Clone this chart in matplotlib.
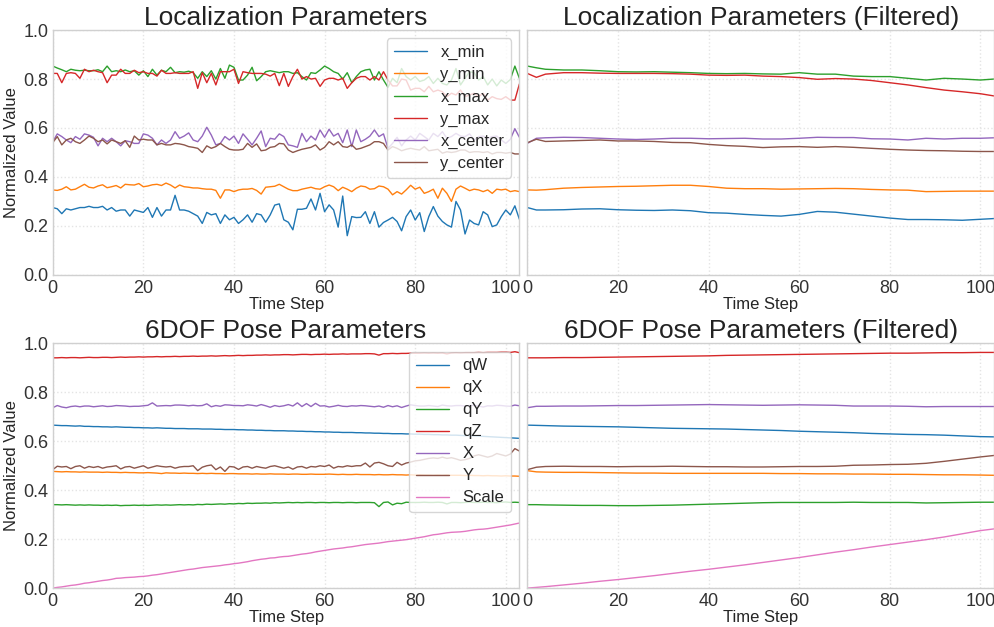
import matplotlib.pyplot as plt
import numpy as np

# raw localization parameters (one value per time step, 0..103)
x_min = [0.275, 0.27, 0.25, 0.27, 0.265, 0.27, 0.275, 0.275, 0.28, 0.275,
         0.275, 0.28, 0.265, 0.275, 0.26, 0.265, 0.265, 0.24, 0.265, 0.26,
         0.255, 0.275, 0.235, 0.275, 0.24, 0.265, 0.265, 0.325, 0.265, 0.265,
         0.26, 0.25, 0.24, 0.21, 0.255, 0.245, 0.25, 0.21, 0.245, 0.225,
         0.235, 0.21, 0.225, 0.245, 0.215, 0.25, 0.245, 0.215, 0.245, 0.285,
         0.29, 0.225, 0.215, 0.184, 0.268, 0.268, 0.272, 0.31, 0.265, 0.333,
         0.258, 0.286, 0.265, 0.195, 0.322, 0.16, 0.238, 0.234, 0.235, 0.258,
         0.21, 0.258, 0.195, 0.214, 0.224, 0.235, 0.218, 0.18, 0.238, 0.265,
         0.224, 0.254, 0.177, 0.238, 0.279, 0.24, 0.218, 0.204, 0.195, 0.3,
         0.265, 0.167, 0.224, 0.21, 0.204, 0.258, 0.245, 0.197, 0.204, 0.238,
         0.265, 0.245, 0.282, 0.227]
y_min = [0.347, 0.345, 0.35, 0.36, 0.347, 0.35, 0.36, 0.37, 0.358, 0.355,
         0.363, 0.368, 0.356, 0.36, 0.365, 0.355, 0.37, 0.368, 0.367, 0.373,
         0.36, 0.363, 0.368, 0.37, 0.365, 0.375, 0.367, 0.355, 0.367, 0.36,
         0.358, 0.355, 0.355, 0.352, 0.35, 0.35, 0.345, 0.313, 0.347, 0.347,
         0.34, 0.347, 0.35, 0.35, 0.353, 0.345, 0.33, 0.358, 0.36, 0.362,
         0.37, 0.36, 0.35, 0.344, 0.344, 0.35, 0.354, 0.358, 0.352, 0.35,
         0.36, 0.367, 0.36, 0.344, 0.358, 0.35, 0.34, 0.354, 0.363, 0.36,
         0.35, 0.352, 0.363, 0.36, 0.35, 0.327, 0.34, 0.33, 0.347, 0.366,
         0.35, 0.358, 0.333, 0.34, 0.35, 0.313, 0.354, 0.333, 0.3, 0.35,
         0.363, 0.354, 0.344, 0.35, 0.347, 0.34, 0.347, 0.333, 0.35, 0.347,
         0.35, 0.34, 0.344, 0.34]
x_max = [0.853, 0.845, 0.838, 0.83, 0.84, 0.836, 0.834, 0.836, 0.834, 0.834,
         0.838, 0.83, 0.853, 0.83, 0.834, 0.83, 0.837, 0.83, 0.834, 0.816,
         0.834, 0.81, 0.84, 0.816, 0.836, 0.83, 0.848, 0.826, 0.83, 0.828,
         0.832, 0.826, 0.803, 0.83, 0.81, 0.834, 0.8, 0.843, 0.803, 0.857,
         0.848, 0.796, 0.796, 0.816, 0.848, 0.793, 0.81, 0.83, 0.834, 0.83,
         0.826, 0.83, 0.83, 0.823, 0.826, 0.81, 0.796, 0.826, 0.823, 0.837,
         0.853, 0.843, 0.83, 0.823, 0.8, 0.826, 0.785, 0.81, 0.83, 0.837,
         0.84, 0.796, 0.83, 0.796, 0.766, 0.803, 0.785, 0.843, 0.81, 0.796,
         0.81, 0.79, 0.796, 0.81, 0.782, 0.803, 0.782, 0.776, 0.796, 0.843,
         0.776, 0.803, 0.83, 0.826, 0.796, 0.81, 0.776, 0.8, 0.772, 0.796,
         0.782, 0.798, 0.853, 0.803]
y_max = [0.823, 0.823, 0.785, 0.823, 0.826, 0.823, 0.803, 0.84, 0.83, 0.836,
         0.83, 0.826, 0.785, 0.816, 0.816, 0.84, 0.823, 0.823, 0.836, 0.826,
         0.83, 0.823, 0.823, 0.812, 0.836, 0.823, 0.823, 0.826, 0.823, 0.823,
         0.823, 0.83, 0.762, 0.826, 0.785, 0.823, 0.776, 0.83, 0.83, 0.83,
         0.84, 0.782, 0.83, 0.826, 0.823, 0.823, 0.823, 0.82, 0.812, 0.823,
         0.773, 0.823, 0.77, 0.81, 0.84, 0.8, 0.81, 0.8, 0.803, 0.77,
         0.796, 0.803, 0.803, 0.796, 0.803, 0.762, 0.785, 0.803, 0.81, 0.81,
         0.796, 0.81, 0.796, 0.83, 0.796, 0.772, 0.772, 0.8, 0.796, 0.755,
         0.762, 0.762, 0.748, 0.77, 0.748, 0.755, 0.748, 0.728, 0.742, 0.735,
         0.755, 0.728, 0.735, 0.742, 0.728, 0.742, 0.714, 0.728, 0.72, 0.717,
         0.728, 0.714, 0.714, 0.78]
x_center = [0.544, 0.576, 0.565, 0.551, 0.54, 0.565, 0.554, 0.576, 0.571, 0.562,
            0.527, 0.558, 0.544, 0.558, 0.544, 0.527, 0.548, 0.544, 0.537, 0.537,
            0.576, 0.571, 0.558, 0.531, 0.551, 0.537, 0.551, 0.585, 0.558, 0.567,
            0.58, 0.551, 0.544, 0.567, 0.603, 0.571, 0.531, 0.537, 0.565, 0.551,
            0.567, 0.537, 0.576, 0.554, 0.531, 0.558, 0.588, 0.524, 0.558, 0.554,
            0.576, 0.565, 0.531, 0.527, 0.521, 0.578, 0.544, 0.567, 0.551, 0.592,
            0.562, 0.595, 0.567, 0.578, 0.54, 0.592, 0.524, 0.592, 0.544, 0.554,
            0.567, 0.592, 0.565, 0.576, 0.517, 0.537, 0.562, 0.527, 0.551, 0.567,
            0.551, 0.578, 0.565, 0.551, 0.578, 0.565, 0.585, 0.558, 0.565, 0.578,
            0.567, 0.565, 0.576, 0.551, 0.565, 0.567, 0.558, 0.565, 0.567, 0.551,
            0.537, 0.554, 0.597, 0.562]
y_center = [0.54, 0.565, 0.531, 0.551, 0.558, 0.544, 0.537, 0.551, 0.567, 0.558,
            0.544, 0.551, 0.535, 0.551, 0.544, 0.537, 0.548, 0.521, 0.567, 0.551,
            0.554, 0.551, 0.551, 0.531, 0.537, 0.531, 0.531, 0.537, 0.535, 0.531,
            0.524, 0.521, 0.517, 0.5, 0.527, 0.517, 0.524, 0.537, 0.524, 0.513,
            0.51, 0.51, 0.513, 0.537, 0.521, 0.535, 0.507, 0.51, 0.521, 0.524,
            0.537, 0.535, 0.51, 0.5, 0.507, 0.513, 0.517, 0.521, 0.531, 0.51,
            0.521, 0.544, 0.531, 0.544, 0.524, 0.521, 0.531, 0.513, 0.517, 0.524,
            0.531, 0.544, 0.544, 0.537, 0.51, 0.524, 0.517, 0.507, 0.513, 0.517,
            0.513, 0.51, 0.524, 0.507, 0.51, 0.513, 0.497, 0.503, 0.5, 0.503,
            0.51, 0.51, 0.5, 0.503, 0.503, 0.5, 0.503, 0.494, 0.5, 0.5,
            0.497, 0.5, 0.494, 0.494]

# filtered localization parameters, read at these time steps
filt_steps = [0, 2, 4, 8, 12, 16, 20, 24, 28, 32, 36, 40, 44, 48, 52, 56, 60,
              64, 68, 72, 76, 80, 84, 88, 92, 96, 100, 103]
f_x_min = [0.275, 0.265, 0.265, 0.266, 0.269, 0.27, 0.266, 0.264, 0.263, 0.265,
           0.262, 0.254, 0.252, 0.247, 0.243, 0.24, 0.247, 0.259, 0.256, 0.248,
           0.24, 0.232, 0.226, 0.226, 0.225, 0.223, 0.227, 0.23]
f_y_min = [0.347, 0.346, 0.348, 0.354, 0.357, 0.359, 0.361, 0.362, 0.364, 0.366,
           0.366, 0.361, 0.354, 0.352, 0.352, 0.35, 0.351, 0.352, 0.353, 0.352,
           0.349, 0.347, 0.346, 0.34, 0.341, 0.342, 0.342, 0.342]
f_x_max = [0.853, 0.846, 0.84, 0.837, 0.837, 0.834, 0.83, 0.829, 0.83, 0.828,
           0.826, 0.823, 0.822, 0.823, 0.821, 0.82, 0.826, 0.82, 0.82, 0.812,
           0.81, 0.81, 0.803, 0.796, 0.803, 0.8, 0.796, 0.8]
f_y_max = [0.823, 0.807, 0.82, 0.826, 0.826, 0.824, 0.823, 0.823, 0.823, 0.822,
           0.82, 0.816, 0.815, 0.816, 0.812, 0.81, 0.806, 0.799, 0.802, 0.8,
           0.794, 0.785, 0.776, 0.765, 0.755, 0.748, 0.74, 0.731]
f_x_center = [0.537, 0.558, 0.56, 0.562, 0.561, 0.558, 0.555, 0.553, 0.555, 0.558,
              0.558, 0.556, 0.557, 0.558, 0.555, 0.555, 0.558, 0.562, 0.561, 0.561,
              0.556, 0.555, 0.551, 0.558, 0.555, 0.558, 0.558, 0.56]
f_y_center = [0.54, 0.554, 0.545, 0.547, 0.549, 0.551, 0.547, 0.547, 0.545, 0.541,
              0.54, 0.533, 0.528, 0.525, 0.52, 0.523, 0.524, 0.521, 0.524, 0.521,
              0.517, 0.513, 0.51, 0.508, 0.507, 0.505, 0.504, 0.504]

# raw 6DOF pose parameters
qW = [0.666, 0.665, 0.664, 0.664, 0.663, 0.662, 0.663, 0.661, 0.661, 0.66,
      0.66, 0.659, 0.659, 0.658, 0.659, 0.658, 0.657, 0.657, 0.656, 0.656,
      0.655, 0.655, 0.654, 0.655, 0.654, 0.653, 0.653, 0.652, 0.652, 0.652,
      0.651, 0.651, 0.651, 0.65, 0.65, 0.65, 0.649, 0.649, 0.648, 0.648,
      0.648, 0.647, 0.647, 0.646, 0.646, 0.645, 0.645, 0.644, 0.644, 0.643,
      0.643, 0.643, 0.642, 0.642, 0.641, 0.641, 0.64, 0.64, 0.639, 0.639,
      0.638, 0.638, 0.637, 0.637, 0.636, 0.636, 0.636, 0.635, 0.635, 0.634,
      0.634, 0.633, 0.633, 0.632, 0.632, 0.631, 0.631, 0.631, 0.63, 0.63,
      0.629, 0.629, 0.628, 0.628, 0.627, 0.627, 0.626, 0.626, 0.625, 0.625,
      0.624, 0.623, 0.623, 0.622, 0.621, 0.62, 0.619, 0.618, 0.617, 0.616,
      0.615, 0.614, 0.613, 0.612]
qX = [0.477, 0.476, 0.475, 0.476, 0.475, 0.475, 0.474, 0.475, 0.474, 0.474,
      0.474, 0.473, 0.474, 0.473, 0.473, 0.472, 0.473, 0.472, 0.472, 0.471,
      0.471, 0.472, 0.471, 0.47, 0.468, 0.471, 0.47, 0.47, 0.469, 0.47,
      0.469, 0.469, 0.468, 0.469, 0.468, 0.469, 0.468, 0.468, 0.467, 0.468,
      0.468, 0.467, 0.467, 0.467, 0.466, 0.467, 0.466, 0.466, 0.467, 0.466,
      0.466, 0.466, 0.465, 0.466, 0.466, 0.465, 0.465, 0.466, 0.465, 0.465,
      0.465, 0.466, 0.465, 0.464, 0.465, 0.464, 0.464, 0.465, 0.464, 0.464,
      0.464, 0.463, 0.464, 0.463, 0.463, 0.464, 0.463, 0.463, 0.462, 0.463,
      0.462, 0.463, 0.462, 0.462, 0.461, 0.462, 0.461, 0.462, 0.461, 0.461,
      0.461, 0.46, 0.461, 0.46, 0.46, 0.459, 0.46, 0.459, 0.459, 0.458,
      0.459, 0.458, 0.458, 0.457]
qY = [0.341, 0.341, 0.34, 0.341, 0.34, 0.339, 0.34, 0.339, 0.34, 0.339,
      0.339, 0.338, 0.339, 0.338, 0.339, 0.337, 0.338, 0.338, 0.339, 0.338,
      0.339, 0.338, 0.339, 0.34, 0.339, 0.34, 0.339, 0.34, 0.341, 0.34,
      0.341, 0.34, 0.342, 0.341, 0.343, 0.342, 0.343, 0.344, 0.343, 0.345,
      0.344, 0.346, 0.345, 0.347, 0.346, 0.347, 0.347, 0.348, 0.347, 0.349,
      0.348, 0.349, 0.35, 0.349, 0.35, 0.349, 0.35, 0.35, 0.349, 0.35,
      0.35, 0.349, 0.35, 0.35, 0.349, 0.35, 0.35, 0.349, 0.35, 0.35,
      0.35, 0.349, 0.333, 0.35, 0.352, 0.34, 0.347, 0.345, 0.351, 0.35,
      0.35, 0.35, 0.351, 0.35, 0.35, 0.351, 0.35, 0.344, 0.35, 0.35,
      0.349, 0.35, 0.351, 0.35, 0.35, 0.351, 0.35, 0.35, 0.349, 0.351,
      0.352, 0.35, 0.351, 0.35]
qZ = [0.941, 0.941, 0.942, 0.941, 0.942, 0.942, 0.941, 0.942, 0.943, 0.942,
      0.942, 0.943, 0.943, 0.942, 0.943, 0.944, 0.943, 0.944, 0.944, 0.945,
      0.944, 0.945, 0.945, 0.946, 0.945, 0.946, 0.946, 0.947, 0.946, 0.947,
      0.947, 0.948, 0.947, 0.948, 0.948, 0.949, 0.948, 0.949, 0.95, 0.949,
      0.95, 0.951, 0.95, 0.951, 0.951, 0.952, 0.952, 0.953, 0.952, 0.953,
      0.953, 0.954, 0.954, 0.953, 0.954, 0.955, 0.955, 0.954, 0.955, 0.955,
      0.956, 0.955, 0.956, 0.956, 0.957, 0.956, 0.957, 0.957, 0.957, 0.958,
      0.958, 0.957, 0.952, 0.958, 0.958, 0.959, 0.958, 0.959, 0.959, 0.96,
      0.96, 0.96, 0.961, 0.96, 0.961, 0.96, 0.961, 0.957, 0.961, 0.962,
      0.961, 0.962, 0.962, 0.962, 0.963, 0.962, 0.963, 0.963, 0.963, 0.964,
      0.964, 0.963, 0.966, 0.962]
pos_X = [0.737, 0.746, 0.74, 0.737, 0.742, 0.744, 0.741, 0.744, 0.744, 0.741,
         0.743, 0.745, 0.742, 0.743, 0.746, 0.745, 0.744, 0.742, 0.743, 0.743,
         0.745, 0.747, 0.757, 0.744, 0.745, 0.746, 0.745, 0.748, 0.748, 0.747,
         0.745, 0.747, 0.745, 0.746, 0.753, 0.741, 0.746, 0.743, 0.749, 0.748,
         0.746, 0.746, 0.745, 0.749, 0.747, 0.744, 0.75, 0.745, 0.739, 0.746,
         0.742, 0.745, 0.75, 0.744, 0.757, 0.742, 0.754, 0.742, 0.755, 0.744,
         0.745, 0.74, 0.743, 0.747, 0.743, 0.742, 0.745, 0.744, 0.746, 0.745,
         0.743, 0.741, 0.744, 0.739, 0.746, 0.741, 0.745, 0.738, 0.744, 0.749,
         0.746, 0.744, 0.744, 0.746, 0.744, 0.742, 0.748, 0.745, 0.744, 0.746,
         0.746, 0.744, 0.746, 0.747, 0.744, 0.74, 0.745, 0.744, 0.747, 0.746,
         0.744, 0.743, 0.748, 0.745]
pos_Y = [0.484, 0.498, 0.495, 0.497, 0.488, 0.497, 0.5, 0.49, 0.497, 0.493,
         0.497, 0.49, 0.495, 0.497, 0.5, 0.487, 0.495, 0.497, 0.49, 0.495,
         0.5, 0.49, 0.495, 0.5, 0.497, 0.495, 0.497, 0.49, 0.495, 0.497,
         0.497, 0.5, 0.48, 0.494, 0.5, 0.503, 0.484, 0.495, 0.477, 0.497,
         0.495, 0.485, 0.495, 0.497, 0.49, 0.497, 0.493, 0.49, 0.497, 0.5,
         0.495, 0.49, 0.495, 0.486, 0.495, 0.497, 0.49, 0.497, 0.495, 0.5,
         0.497, 0.503, 0.49, 0.497, 0.495, 0.5, 0.497, 0.5, 0.5, 0.511,
         0.495, 0.511, 0.514, 0.508, 0.5, 0.497, 0.514, 0.503, 0.511, 0.515,
         0.52, 0.522, 0.526, 0.53, 0.532, 0.53, 0.535, 0.53, 0.533, 0.528,
         0.522, 0.525, 0.53, 0.54, 0.545, 0.54, 0.535, 0.54, 0.55, 0.545,
         0.54, 0.548, 0.57, 0.56]
scale = [0.0, 0.003, 0.005, 0.008, 0.011, 0.013, 0.016, 0.02, 0.022, 0.025,
         0.028, 0.031, 0.033, 0.036, 0.04, 0.041, 0.043, 0.044, 0.045, 0.047,
         0.048, 0.05, 0.053, 0.055, 0.058, 0.061, 0.064, 0.067, 0.07, 0.073,
         0.076, 0.078, 0.081, 0.084, 0.086, 0.088, 0.09, 0.092, 0.095, 0.097,
         0.1, 0.102, 0.105, 0.108, 0.112, 0.115, 0.118, 0.12, 0.123, 0.124,
         0.127, 0.129, 0.13, 0.133, 0.136, 0.139, 0.141, 0.144, 0.148, 0.151,
         0.154, 0.157, 0.16, 0.162, 0.164, 0.167, 0.169, 0.172, 0.175, 0.178,
         0.18, 0.182, 0.184, 0.187, 0.19, 0.192, 0.194, 0.196, 0.198, 0.201,
         0.204, 0.207, 0.21, 0.214, 0.218, 0.22, 0.223, 0.226, 0.228, 0.229,
         0.23, 0.232, 0.235, 0.238, 0.24, 0.241, 0.243, 0.246, 0.249, 0.252,
         0.255, 0.258, 0.262, 0.266]

# filtered 6DOF pose parameters (same filt_steps)
f_qW = [0.666, 0.665, 0.664, 0.662, 0.661, 0.66, 0.659, 0.657, 0.655, 0.653,
        0.652, 0.651, 0.65, 0.648, 0.646, 0.644, 0.641, 0.639, 0.637, 0.635,
        0.632, 0.63, 0.628, 0.627, 0.625, 0.622, 0.619, 0.618]
f_qX = [0.48, 0.475, 0.474, 0.473, 0.473, 0.472, 0.471, 0.47, 0.47, 0.469,
        0.469, 0.469, 0.469, 0.469, 0.469, 0.468, 0.468, 0.467, 0.467, 0.466,
        0.466, 0.465, 0.465, 0.464, 0.463, 0.463, 0.462, 0.461]
f_qY = [0.341, 0.341, 0.34, 0.339, 0.338, 0.338, 0.337, 0.337, 0.338, 0.339,
        0.341, 0.343, 0.345, 0.347, 0.349, 0.35, 0.35, 0.35, 0.35, 0.351,
        0.35, 0.35, 0.35, 0.348, 0.349, 0.35, 0.351, 0.351]
f_qZ = [0.941, 0.941, 0.941, 0.942, 0.942, 0.943, 0.944, 0.945, 0.946, 0.947,
        0.948, 0.949, 0.951, 0.952, 0.953, 0.954, 0.955, 0.956, 0.957, 0.958,
        0.959, 0.96, 0.96, 0.961, 0.962, 0.962, 0.963, 0.963]
f_pos_X = [0.737, 0.743, 0.743, 0.744, 0.744, 0.745, 0.746, 0.746, 0.747, 0.748,
           0.749, 0.75, 0.749, 0.748, 0.747, 0.748, 0.749, 0.748, 0.747, 0.744,
           0.744, 0.744, 0.743, 0.741, 0.742, 0.742, 0.742, 0.742]
f_pos_Y = [0.484, 0.494, 0.497, 0.498, 0.497, 0.497, 0.496, 0.497, 0.497, 0.498,
           0.497, 0.496, 0.496, 0.495, 0.495, 0.496, 0.497, 0.497, 0.498, 0.502,
           0.503, 0.505, 0.506, 0.51, 0.518, 0.527, 0.536, 0.542]
f_scale = [0.0, 0.003, 0.006, 0.013, 0.02, 0.028, 0.035, 0.043, 0.051, 0.06,
           0.069, 0.077, 0.086, 0.095, 0.105, 0.115, 0.125, 0.136, 0.147, 0.157,
           0.168, 0.178, 0.188, 0.198, 0.209, 0.222, 0.235, 0.242]

loc_labels = ['x_min', 'y_min', 'x_max', 'y_max', 'x_center', 'y_center']
pose_labels = ['qW', 'qX', 'qY', 'qZ', 'X', 'Y', 'Scale']

plt.style.use('seaborn-v0_8-whitegrid')
plt.rcParams['font.family'] = ['Liberation Sans', 'DejaVu Sans']
plt.rcParams['axes.edgecolor'] = '#d0d0d0'
plt.rcParams['grid.color'] = '#e4e4e4'
plt.rcParams['grid.linestyle'] = ':'
plt.rcParams['grid.linewidth'] = 1.0
plt.rcParams['xtick.color'] = '#333333'
plt.rcParams['ytick.color'] = '#333333'

fig, axs = plt.subplots(2, 2, figsize=(9.95, 6.27), dpi=100, sharey=True)
fig.subplots_adjust(left=0.053, right=0.999, top=0.952, bottom=0.062,
                    wspace=0.017, hspace=0.28)

steps = np.arange(len(x_min))
raw_loc = [x_min, y_min, x_max, y_max, x_center, y_center]
filt_loc = [f_x_min, f_y_min, f_x_max, f_y_max, f_x_center, f_y_center]
raw_pose = [qW, qX, qY, qZ, pos_X, pos_Y, scale]
filt_pose = [f_qW, f_qX, f_qY, f_qZ, f_pos_X, f_pos_Y, f_scale]

panels = [
    (axs[0, 0], steps, raw_loc, loc_labels, 'Localization Parameters', True),
    (axs[0, 1], filt_steps, filt_loc, loc_labels, 'Localization Parameters (Filtered)', False),
    (axs[1, 0], steps, raw_pose, pose_labels, '6DOF Pose Parameters', True),
    (axs[1, 1], filt_steps, filt_pose, pose_labels, '6DOF Pose Parameters (Filtered)', False),
]

for ax, xs, series, labels, title, show_legend in panels:
    for ys, lab in zip(series, labels):
        ax.plot(xs, ys, linewidth=1.0, label=lab)
    ax.set_title(title, fontsize=19, color='#222222', pad=4)
    ax.set_xlabel('Time Step', fontsize=12, labelpad=0)
    ax.set_xlim(0, 103)
    ax.set_ylim(0, 1)
    ax.set_xticks([0, 20, 40, 60, 80, 100])
    ax.tick_params(axis='x', labelsize=13, pad=3.5)
    ax.tick_params(axis='y', labelsize=13, pad=3)
    for s in ax.spines.values():
        s.set_visible(True)
        s.set_color('#d0d0d0')
    if show_legend:
        ax.set_ylabel('Normalized Value', fontsize=12, labelpad=3)
        ax.legend(loc='upper right', fontsize=12, frameon=True, framealpha=0.8,
                  handlelength=2.0, handletextpad=0.8, borderpad=0.4,
                  labelspacing=0.42)

fig.savefig('out.png', dpi=100)
